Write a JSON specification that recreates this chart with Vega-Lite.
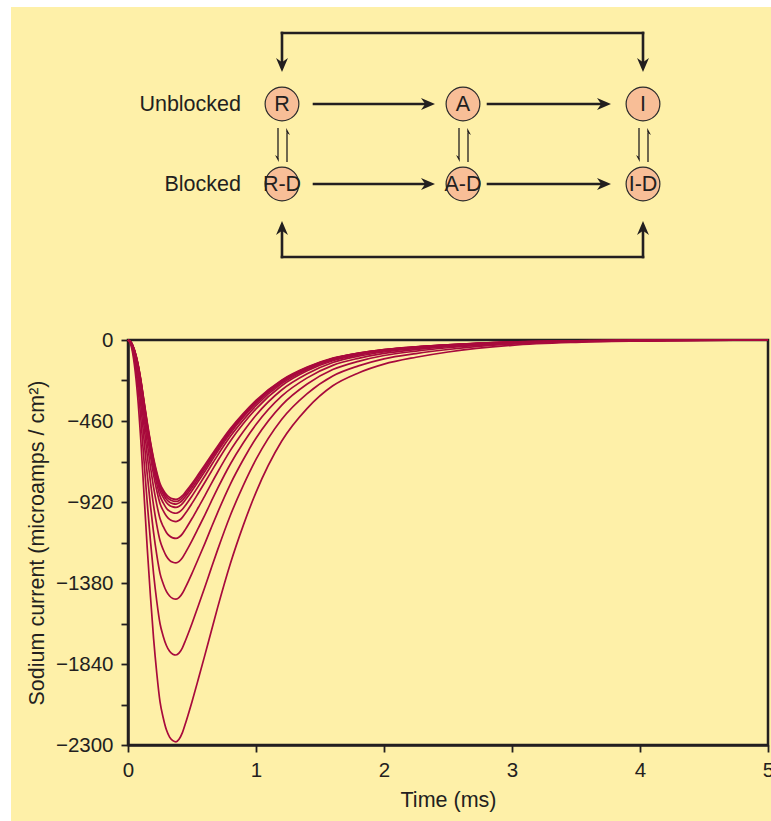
{
  "$schema": "https://vega.github.io/schema/vega-lite/v6.json",
  "background": "#FEF0A8",
  "padding": 0,
  "bounds": "flush",
  "spacing": 40,
  "config": {"font": "Liberation Sans"},
  "datasets": {
    "margins": [
      {"x": -128, "x2": -117, "y": 0, "y2": 821},
      {"x": -128, "x2": 645, "y": 0, "y2": 7}
    ],
    "transitions": [
      {"x": 154, "y": 33, "x2": 154, "y2": 64},
      {"x": 154, "y": 33, "x2": 515, "y2": 33},
      {"x": 515, "y": 33, "x2": 515, "y2": 64},
      {"x": 154, "y": 257, "x2": 154, "y2": 229},
      {"x": 154, "y": 257, "x2": 515, "y2": 257},
      {"x": 515, "y": 257, "x2": 515, "y2": 229},
      {"x": 186, "y": 104, "x2": 300, "y2": 104},
      {"x": 360, "y": 104, "x2": 476, "y2": 104},
      {"x": 186, "y": 184, "x2": 300, "y2": 184},
      {"x": 360, "y": 184, "x2": 476, "y2": 184}
    ],
    "heads": [
      {"x": 154, "y": 72, "dir": "down"},
      {"x": 515, "y": 72, "dir": "down"},
      {"x": 154, "y": 221, "dir": "up"},
      {"x": 515, "y": 221, "dir": "up"},
      {"x": 307, "y": 104, "dir": "right"},
      {"x": 483, "y": 104, "dir": "right"},
      {"x": 307, "y": 184, "dir": "right"},
      {"x": 483, "y": 184, "dir": "right"}
    ],
    "binding": [
      {"x": 150, "y": 128, "x2": 150, "y2": 157},
      {"x": 159, "y": 162, "x2": 159, "y2": 133},
      {"x": 331, "y": 128, "x2": 331, "y2": 157},
      {"x": 340, "y": 162, "x2": 340, "y2": 133},
      {"x": 511, "y": 128, "x2": 511, "y2": 157},
      {"x": 520, "y": 162, "x2": 520, "y2": 133}
    ],
    "bindingHeads": [
      {"x": 150, "y": 162, "dir": "down"},
      {"x": 159, "y": 128, "dir": "up"},
      {"x": 331, "y": 162, "dir": "down"},
      {"x": 340, "y": 128, "dir": "up"},
      {"x": 511, "y": 162, "dir": "down"},
      {"x": 520, "y": 128, "dir": "up"}
    ],
    "nodes": [
      {"id": "R", "x": 154, "y": 104},
      {"id": "A", "x": 335, "y": 104},
      {"id": "I", "x": 515, "y": 104},
      {"id": "R-D", "x": 154, "y": 184},
      {"id": "A-D", "x": 335, "y": 184},
      {"id": "I-D", "x": 515, "y": 184}
    ],
    "rows": [
      {"label": "Unblocked", "x": 113, "y": 104},
      {"label": "Blocked", "x": 113, "y": 184}
    ],
    "currents": [
      {"t": 0, "c1": 0, "c2": 0, "c3": 0, "c4": 0, "c5": 0, "c6": 0, "c7": 0, "c8": 0, "c9": 0, "c10": 0, "c11": 0},
      {"t": 0.025, "c1": -14, "c2": -14, "c3": -14, "c4": -14, "c5": -15, "c6": -15, "c7": -17, "c8": -19, "c9": -22, "c10": -27, "c11": -34},
      {"t": 0.05, "c1": -56, "c2": -57, "c3": -58, "c4": -59, "c5": -61, "c6": -64, "c7": -70, "c8": -78, "c9": -91, "c10": -111, "c11": -141},
      {"t": 0.075, "c1": -126, "c2": -127, "c3": -130, "c4": -132, "c5": -137, "c6": -143, "c7": -157, "c8": -176, "c9": -205, "c10": -249, "c11": -317},
      {"t": 0.1, "c1": -225, "c2": -228, "c3": -232, "c4": -237, "c5": -245, "c6": -257, "c7": -281, "c8": -315, "c9": -367, "c10": -445, "c11": -568},
      {"t": 0.125, "c1": -347, "c2": -351, "c3": -357, "c4": -364, "c5": -377, "c6": -395, "c7": -432, "c8": -485, "c9": -564, "c10": -685, "c11": -874},
      {"t": 0.15, "c1": -467, "c2": -473, "c3": -481, "c4": -491, "c5": -508, "c6": -532, "c7": -582, "c8": -653, "c9": -760, "c10": -923, "c11": -1178},
      {"t": 0.175, "c1": -576, "c2": -583, "c3": -593, "c4": -605, "c5": -626, "c6": -656, "c7": -717, "c8": -805, "c9": -936, "c10": -1138, "c11": -1451},
      {"t": 0.2, "c1": -672, "c2": -681, "c3": -692, "c4": -707, "c5": -731, "c6": -766, "c7": -837, "c8": -941, "c9": -1094, "c10": -1329, "c11": -1696},
      {"t": 0.225, "c1": -751, "c2": -761, "c3": -774, "c4": -789, "c5": -817, "c6": -856, "c7": -935, "c8": -1051, "c9": -1222, "c10": -1485, "c11": -1894},
      {"t": 0.25, "c1": -815, "c2": -825, "c3": -839, "c4": -856, "c5": -886, "c6": -928, "c7": -1014, "c8": -1139, "c9": -1325, "c10": -1610, "c11": -2054},
      {"t": 0.275, "c1": -851, "c2": -862, "c3": -876, "c4": -894, "c5": -925, "c6": -969, "c7": -1059, "c8": -1190, "c9": -1384, "c10": -1682, "c11": -2145},
      {"t": 0.3, "c1": -878, "c2": -890, "c3": -904, "c4": -923, "c5": -955, "c6": -1000, "c7": -1093, "c8": -1228, "c9": -1428, "c10": -1735, "c11": -2214},
      {"t": 0.325, "c1": -894, "c2": -906, "c3": -921, "c4": -940, "c5": -972, "c6": -1019, "c7": -1113, "c8": -1251, "c9": -1454, "c10": -1768, "c11": -2255},
      {"t": 0.35, "c1": -902, "c2": -914, "c3": -929, "c4": -948, "c5": -981, "c6": -1028, "c7": -1124, "c8": -1262, "c9": -1468, "c10": -1784, "c11": -2275},
      {"t": 0.375, "c1": -905, "c2": -917, "c3": -932, "c4": -951, "c5": -984, "c6": -1031, "c7": -1127, "c8": -1266, "c9": -1472, "c10": -1789, "c11": -2282},
      {"t": 0.4, "c1": -899, "c2": -911, "c3": -925, "c4": -944, "c5": -977, "c6": -1024, "c7": -1119, "c8": -1257, "c9": -1462, "c10": -1777, "c11": -2266},
      {"t": 0.425, "c1": -884, "c2": -896, "c3": -911, "c4": -929, "c5": -961, "c6": -1007, "c7": -1101, "c8": -1237, "c9": -1438, "c10": -1748, "c11": -2230},
      {"t": 0.45, "c1": -862, "c2": -874, "c3": -888, "c4": -906, "c5": -938, "c6": -983, "c7": -1074, "c8": -1206, "c9": -1403, "c10": -1705, "c11": -2175},
      {"t": 0.5, "c1": -815, "c2": -825, "c3": -839, "c4": -856, "c5": -886, "c6": -928, "c7": -1014, "c8": -1139, "c9": -1325, "c10": -1610, "c11": -2054},
      {"t": 0.55, "c1": -763, "c2": -773, "c3": -786, "c4": -802, "c5": -830, "c6": -869, "c7": -950, "c8": -1067, "c9": -1241, "c10": -1508, "c11": -1924},
      {"t": 0.6, "c1": -710, "c2": -720, "c3": -732, "c4": -747, "c5": -772, "c6": -809, "c7": -885, "c8": -994, "c9": -1156, "c10": -1404, "c11": -1791},
      {"t": 0.65, "c1": -656, "c2": -665, "c3": -676, "c4": -690, "c5": -713, "c6": -748, "c7": -817, "c8": -918, "c9": -1067, "c10": -1297, "c11": -1655},
      {"t": 0.7, "c1": -603, "c2": -611, "c3": -621, "c4": -633, "c5": -655, "c6": -687, "c7": -751, "c8": -843, "c9": -980, "c10": -1192, "c11": -1520},
      {"t": 0.8, "c1": -503, "c2": -510, "c3": -518, "c4": -529, "c5": -547, "c6": -573, "c7": -627, "c8": -704, "c9": -818, "c10": -995, "c11": -1269},
      {"t": 0.9, "c1": -418, "c2": -424, "c3": -431, "c4": -439, "c5": -455, "c6": -476, "c7": -521, "c8": -585, "c9": -680, "c10": -827, "c11": -1054},
      {"t": 1.0, "c1": -343, "c2": -348, "c3": -353, "c4": -360, "c5": -373, "c6": -391, "c7": -427, "c8": -480, "c9": -558, "c10": -678, "c11": -865},
      {"t": 1.2, "c1": -228, "c2": -231, "c3": -235, "c4": -240, "c5": -248, "c6": -260, "c7": -284, "c8": -319, "c9": -371, "c10": -451, "c11": -575},
      {"t": 1.4, "c1": -154, "c2": -156, "c3": -158, "c4": -162, "c5": -167, "c6": -175, "c7": -192, "c8": -215, "c9": -250, "c10": -304, "c11": -388},
      {"t": 1.6, "c1": -103, "c2": -105, "c3": -106, "c4": -108, "c5": -112, "c6": -118, "c7": -128, "c8": -144, "c9": -168, "c10": -204, "c11": -260},
      {"t": 1.8, "c1": -74, "c2": -75, "c3": -76, "c4": -78, "c5": -81, "c6": -85, "c7": -92, "c8": -104, "c9": -121, "c10": -147, "c11": -187},
      {"t": 2.0, "c1": -54, "c2": -55, "c3": -56, "c4": -57, "c5": -59, "c6": -62, "c7": -68, "c8": -76, "c9": -88, "c10": -107, "c11": -137},
      {"t": 2.25, "c1": -39, "c2": -39, "c3": -40, "c4": -41, "c5": -42, "c6": -44, "c7": -48, "c8": -54, "c9": -63, "c10": -77, "c11": -98},
      {"t": 2.5, "c1": -27, "c2": -28, "c3": -28, "c4": -29, "c5": -30, "c6": -31, "c7": -34, "c8": -38, "c9": -44, "c10": -54, "c11": -68},
      {"t": 3.0, "c1": -12, "c2": -12, "c3": -12, "c4": -12, "c5": -13, "c6": -13, "c7": -15, "c8": -16, "c9": -19, "c10": -23, "c11": -30},
      {"t": 3.5, "c1": -5, "c2": -5, "c3": -5, "c4": -5, "c5": -6, "c6": -6, "c7": -6, "c8": -7, "c9": -8, "c10": -10, "c11": -13},
      {"t": 4.0, "c1": -2, "c2": -2, "c3": -2, "c4": -2, "c5": -2, "c6": -2, "c7": -3, "c8": -3, "c9": -4, "c10": -4, "c11": -5},
      {"t": 4.5, "c1": -1, "c2": -1, "c3": -1, "c4": -1, "c5": -1, "c6": -1, "c7": -1, "c8": -1, "c9": -1, "c10": -2, "c11": -2},
      {"t": 5.0, "c1": 0, "c2": 0, "c3": 0, "c4": 0, "c5": 0, "c6": 0, "c7": 0, "c8": 0, "c9": 0, "c10": 0, "c11": 0}
    ]
  },
  "vconcat": [
    {
      "width": 640,
      "height": 300,
      "view": {"stroke": null},
      "encoding": {
        "x": {"field": "x", "type": "quantitative", "scale": {"domain": [0, 640], "nice": false, "zero": false}, "axis": null},
        "y": {"field": "y", "type": "quantitative", "scale": {"domain": [0, 300], "reverse": true, "nice": false, "zero": false}, "axis": null}
      },
      "layer": [
        {
          "data": {"name": "margins"},
          "mark": {"type": "rect", "color": "white"},
          "encoding": {"x2": {"field": "x2"}, "y2": {"field": "y2"}}
        },
        {
          "data": {"name": "transitions"},
          "mark": {"type": "rule", "color": "#231f20", "strokeWidth": 2.6, "strokeCap": "square"},
          "encoding": {"x2": {"field": "x2"}, "y2": {"field": "y2"}}
        },
        {
          "data": {"name": "heads"},
          "mark": {"type": "point", "filled": true, "color": "#231f20", "size": 196, "opacity": 1},
          "encoding": {
            "shape": {"field": "dir", "type": "nominal", "legend": null,
              "scale": {"domain": ["right", "down", "up"], "range": ["M0,0L-2,-0.85L-1.4,0L-2,0.85Z", "M0,0L-0.85,-2L0,-1.4L0.85,-2Z", "M0,0L-0.85,2L0,1.4L0.85,2Z"]}}
          }
        },
        {
          "data": {"name": "binding"},
          "mark": {"type": "rule", "color": "#231f20", "strokeWidth": 1.3},
          "encoding": {"x2": {"field": "x2"}, "y2": {"field": "y2"}}
        },
        {
          "data": {"name": "bindingHeads"},
          "mark": {"type": "point", "filled": true, "color": "#231f20", "size": 36, "opacity": 1},
          "encoding": {
            "shape": {"field": "dir", "type": "nominal", "legend": null,
              "scale": {"domain": ["down", "up"], "range": ["M0.25,0L-1,-2.3L0.25,-1.5Z", "M-0.25,0L1,2.3L-0.25,1.5Z"]}}
          }
        },
        {
          "data": {"name": "nodes"},
          "mark": {"type": "point", "shape": "circle", "filled": true, "fill": "#F8BE97", "stroke": "#2b2b2b", "strokeWidth": 1.2, "size": 1140, "opacity": 1}
        },
        {
          "data": {"name": "nodes"},
          "mark": {"type": "text", "fontSize": 21.5, "color": "#231f20", "align": "center", "baseline": "middle", "dy": 1},
          "encoding": {"text": {"field": "id"}}
        },
        {
          "data": {"name": "rows"},
          "mark": {"type": "text", "fontSize": 21.5, "color": "#231f20", "align": "right", "baseline": "middle", "dy": 1},
          "encoding": {"text": {"field": "label"}}
        }
      ],
      "resolve": {"scale": {"shape": "independent"}}
    },
    {
      "width": 640,
      "height": 405,
      "view": {"stroke": "#231f20", "strokeWidth": 2.5},
      "data": {"name": "currents"},
      "transform": [
        {"fold": ["c1", "c2", "c3", "c4", "c5", "c6", "c7", "c8", "c9", "c10", "c11"], "as": ["trace", "current"]}
      ],
      "mark": {"type": "line", "color": "#A80A3C", "strokeWidth": 1.7, "interpolate": "monotone"},
      "encoding": {
        "x": {
          "field": "t", "type": "quantitative",
          "scale": {"domain": [0, 5], "nice": false, "zero": false},
          "axis": {
            "title": "Time (ms)",
            "values": [0, 0.5, 1, 1.5, 2, 2.5, 3, 3.5, 4, 4.5, 5],
            "format": "d",
            "labelExpr": "datum.value % 1 === 0 ? datum.label : ''",
            "grid": false, "domainColor": "#231f20", "domainWidth": 2.5,
            "tickColor": "#231f20", "tickWidth": 1.8, "tickSize": 7,
            "labelFontSize": 20.5, "labelColor": "#231f20", "labelPadding": 8,
            "labelFlush": false, "labelOverlap": false, "labelBound": false,
            "titleFontSize": 21.5, "titleFontWeight": "normal", "titleColor": "#231f20", "titlePadding": 9
          }
        },
        "y": {
          "field": "current", "type": "quantitative",
          "scale": {"domain": [-2300, 0], "nice": false, "zero": false},
          "axis": {
            "title": "Sodium current (microamps / cm²)",
            "values": [-2300, -2070, -1840, -1610, -1380, -1150, -920, -690, -460, -230, 0],
            "format": "d",
            "labelExpr": "datum.value % 460 === 0 ? datum.label : ''",
            "grid": false, "domainColor": "#231f20", "domainWidth": 2.5,
            "tickColor": "#231f20", "tickWidth": 1.8, "tickSize": 7,
            "labelFontSize": 20.5, "labelColor": "#231f20", "labelPadding": 8,
            "labelOverlap": false, "labelBound": false, "labelFlush": false,
            "titleFontSize": 21.5, "titleFontWeight": "normal", "titleColor": "#231f20", "titlePadding": 7
          }
        },
        "detail": {"field": "trace", "type": "nominal"}
      }
    }
  ]
}
